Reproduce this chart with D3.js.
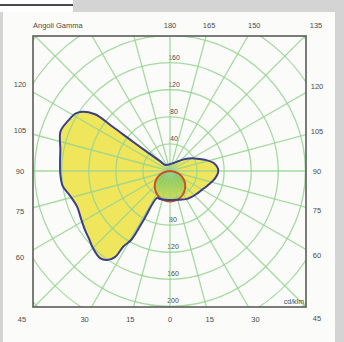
<!DOCTYPE html>
<meta charset="utf-8">
<style>
body { margin: 0; background: #fff; }
text { font-family: "Liberation Sans", Arial, sans-serif; fill: #4a4a4a; }
</style>
<svg width="344" height="342"></svg>
<script src="https://cdn.jsdelivr.net/npm/d3@7"></script>
<script>

// gamma angles for spokes and tick labels
var spokeAngles = d3.range(0, 360, 15);
var leftLabels = [15, 30, 45, 60, 75, 90, 105, 120];
var rightLabels = [15, 30, 45, 60, 75, 90, 105, 120, 135, 150, 165];
var ringValues = [40, 80, 120, 160, 200, 240, 280];
var ringLabelsUp = [40, 80, 120, 160];
var ringLabelsDown = [40, 80, 120, 160, 200];

// C0 half (drawn on the right), cd/klm
var c0Gamma = [0, 10, 20, 30, 40, 50, 60, 70, 80, 88, 93, 100, 106, 112, 120, 127, 140, 155, 170, 180];
var c0Value = [43, 43, 45, 48, 50, 52, 55, 60, 67, 71, 71, 66, 57, 47, 38, 30, 19, 13, 11, 10];

// C180 half (drawn on the left)
var c180Gamma = [0, 10, 20, 25.7, 28.3, 29.3, 31.7, 32.6, 35.3, 38.8, 45, 50, 55, 62, 69, 76, 82, 88, 95, 101, 110, 116, 122, 127, 127.6, 128.2, 129.8, 135, 140, 160];
var c180Value = [43, 43, 44, 44, 83, 116, 131, 151, 161, 165, 161, 156, 153, 149, 147, 152, 160, 162, 163, 165, 172, 168, 162, 140, 107, 75, 43, 20, 12, 10];

// C90-C270 plane (red)
var c90Gamma = [0, 10, 20, 30, 40, 50, 60, 70, 80, 90];
var c90Value = [45, 44.5, 42.5, 39, 34.5, 29, 22.5, 15.5, 8, 0];

var svg = d3.select("svg");
var W = 344, H = 342;
var cx = 170, cy = 171;
var box = {x0: 33, y0: 36, x1: 306, y1: 307};

var r = d3.scaleLinear().domain([0, 200]).range([0, 135.4]);
var rad = function(d) { return d * Math.PI / 180; };

// frame of the scanned page
svg.append("rect").attr("width", W).attr("height", H).attr("fill", "#d4d4d4");
svg.append("rect").attr("x", 0).attr("y", 0).attr("width", 73).attr("height", 12).attr("fill", "#fff");
svg.append("line").attr("x1", 0).attr("x2", 73).attr("y1", 5).attr("y2", 5)
    .attr("stroke", "#111").attr("stroke-width", 1.5);
svg.append("rect").attr("x", 3).attr("y", 12).attr("width", 332).attr("height", H - 12).attr("fill", "#fbfcfa");

var defs = svg.append("defs");
defs.append("clipPath").attr("id", "boxclip").append("rect")
    .attr("x", box.x0).attr("y", box.y0)
    .attr("width", box.x1 - box.x0).attr("height", box.y1 - box.y0);

var grad = defs.append("radialGradient").attr("id", "yel")
    .attr("gradientUnits", "userSpaceOnUse")
    .attr("cx", cx).attr("cy", cy).attr("r", 60);
grad.append("stop").attr("offset", "0%").attr("stop-color", "#6cbc48");
grad.append("stop").attr("offset", "35%").attr("stop-color", "#c6dc4c");
grad.append("stop").attr("offset", "100%").attr("stop-color", "#efe65c");

var redGrad = defs.append("linearGradient").attr("id", "grn")
    .attr("x1", 0).attr("y1", 0).attr("x2", 0).attr("y2", 1);
redGrad.append("stop").attr("offset", "0%").attr("stop-color", "#5fb845");
redGrad.append("stop").attr("offset", "100%").attr("stop-color", "#d4e050");

var g = svg.append("g").attr("transform", "translate(" + cx + "," + cy + ")");
var plot = svg.append("g").attr("clip-path", "url(#boxclip)")
    .append("g").attr("transform", "translate(" + cx + "," + cy + ")");

// curves: gamma 0 points down, right side = C0, left side = C180
var pts = [];
for (var i = c0Gamma.length - 1; i >= 0; i--) pts.push({a: rad(180 - c0Gamma[i]), v: c0Value[i]});
for (var j = 1; j < c180Gamma.length; j++) pts.push({a: rad(180 + c180Gamma[j]), v: c180Value[j]});

var radial = d3.lineRadial()
    .angle(function(d) { return d.a; })
    .radius(function(d) { return r(d.v); })
    .curve(d3.curveCatmullRomClosed.alpha(0.5));

plot.append("path").datum(pts)
    .attr("d", radial)
    .attr("fill", "url(#yel)");

// red C90 curve fill (under the grid)
var redPts = [];
for (var k = c90Gamma.length - 1; k >= 0; k--) redPts.push({a: rad(180 - c90Gamma[k]), v: c90Value[k]});
for (var m = 1; m < c90Gamma.length; m++) redPts.push({a: rad(180 + c90Gamma[m]), v: c90Value[m]});
plot.append("path").datum(redPts)
    .attr("d", radial)
    .attr("fill", "url(#grn)").attr("fill-opacity", 0.8);

// grid on top of the fill
var grid = plot.append("g").attr("stroke", "#97d492").attr("stroke-opacity", 0.85)
    .attr("stroke-width", 1.3).attr("fill", "none");
grid.selectAll("circle").data(ringValues).enter().append("circle")
    .attr("r", function(d) { return r(d); });
grid.selectAll("line").data(spokeAngles).enter().append("line")
    .attr("x1", 0).attr("y1", 0)
    .attr("x2", function(d) { return 260 * Math.sin(rad(d)); })
    .attr("y2", function(d) { return 260 * Math.cos(rad(d)); });

plot.append("path").datum(redPts)
    .attr("d", radial)
    .attr("fill", "none")
    .attr("stroke", "#c9522a").attr("stroke-width", 2);

plot.append("path").datum(pts)
    .attr("d", radial)
    .attr("fill", "none")
    .attr("stroke", "#3c3f88").attr("stroke-width", 2);

// box
svg.append("rect")
    .attr("x", box.x0).attr("y", box.y0)
    .attr("width", box.x1 - box.x0).attr("height", box.y1 - box.y0)
    .attr("fill", "none").attr("stroke", "#5a5a5a").attr("stroke-width", 1.6);

// gamma labels placed where the spoke meets the label frame
var lab = {l: -150, r: 147, t: -146, b: 148};
function labelPos(gam, side) {
  var dx = side * Math.sin(rad(gam)), dy = Math.cos(rad(gam));
  var t = Infinity;
  if (dx > 1e-6) t = Math.min(t, lab.r / dx);
  if (dx < -1e-6) t = Math.min(t, lab.l / dx);
  if (dy > 1e-6) t = Math.min(t, lab.b / dy);
  if (dy < -1e-6) t = Math.min(t, lab.t / dy);
  return [dx * t, dy * t];
}
var gammaLabels = [{g: 0, s: 1}, {g: 180, s: 1}];
leftLabels.forEach(function(d) { gammaLabels.push({g: d, s: -1}); });
rightLabels.forEach(function(d) { gammaLabels.push({g: d, s: 1}); });

g.selectAll("text.gam").data(gammaLabels).enter().append("text")
    .attr("class", "gam")
    .attr("x", function(d) { return labelPos(d.g, d.s)[0]; })
    .attr("y", function(d) { return labelPos(d.g, d.s)[1]; })
    .attr("dy", "0.35em")
    .attr("text-anchor", "middle")
    .style("font-size", "7.5px")
    .text(function(d) { return d.g; });

// ring value labels along the vertical axis
g.selectAll("text.up").data(ringLabelsUp).enter().append("text")
    .attr("class", "up")
    .attr("x", 4).attr("y", function(d) { return -r(d) - 3; })
    .attr("text-anchor", "middle")
    .style("font-size", "7px")
    .text(function(d) { return d; });
g.selectAll("text.down").data(ringLabelsDown).enter().append("text")
    .attr("class", "down")
    .attr("x", 3).attr("y", function(d) { return r(d) - 3; })
    .attr("text-anchor", "middle")
    .style("font-size", "7px")
    .text(function(d) { return d; });

svg.append("text").attr("x", box.x0).attr("y", 28)
    .style("font-size", "7.5px").text("Angoli Gamma");
svg.append("text").attr("x", box.x1 - 2).attr("y", box.y1 - 3)
    .attr("text-anchor", "end")
    .style("font-size", "7px").text("cd/klm");

</script>
